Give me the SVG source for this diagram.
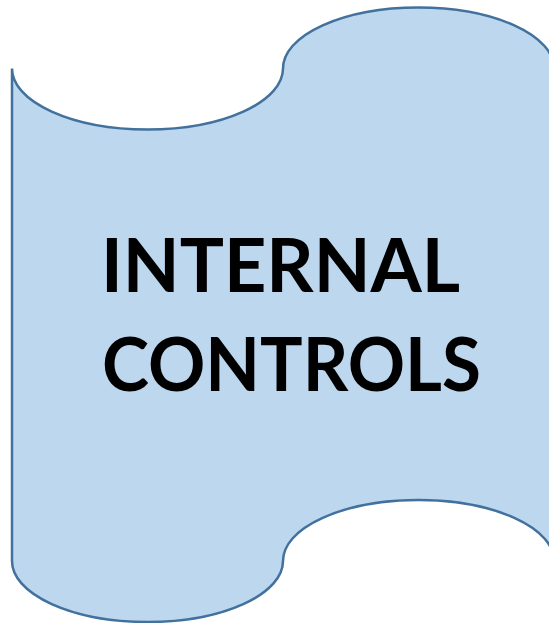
<svg xmlns="http://www.w3.org/2000/svg" width="549" height="623" viewBox="0 0 549 623">
  <style>
    .tape { fill: #BDD7EE; stroke: #41719C; stroke-width: 2.5; }
    .label { font-family: Lato, "Open Sans", "Liberation Sans", sans-serif; font-weight: bold; font-size: 75px; fill: #000000; }
  </style>
  <rect width="549" height="623" fill="#FFFFFF"/>
  <g id="internal-controls">
    <path class="tape" d="M 12,68.5 A 135.5 61 0 0 0 283,68.5 A 135.5 61 0 0 1 554,68.5 L 554,561 A 135.5 61 0 0 0 283,561 A 135.5 61 0 0 1 12,561 Z"/>
    <text class="label" x="101" y="292" textLength="359" lengthAdjust="spacingAndGlyphs">INTERNAL</text>
    <text class="label" x="102" y="391" textLength="379" lengthAdjust="spacingAndGlyphs">CONTROLS</text>
  </g>
  <g id="connectors"/>
</svg>
